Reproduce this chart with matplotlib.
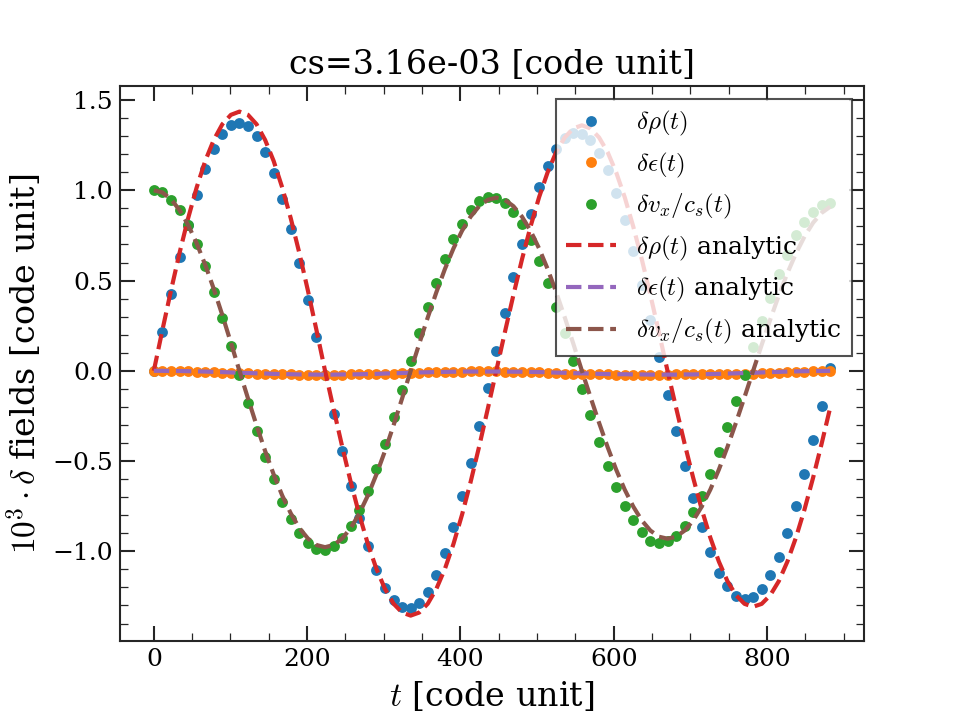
import numpy as np
import matplotlib
matplotlib.use("Agg")
import matplotlib.pyplot as plt

# time samples (code units), 80 outputs
dt = 11.17
t = dt * np.arange(80)

# measured perturbations (x 1e3)
rho = [0.000, 0.214, 0.423, 0.628, 0.807, 0.976, 1.116, 1.227, 1.311, 1.361,
       1.372, 1.355, 1.300, 1.211, 1.096, 0.950, 0.785, 0.600, 0.395, 0.190,
       -0.025, -0.238, -0.443, -0.637, -0.815, -0.968, -1.102, -1.201, -1.272, -1.311,
       -1.312, -1.285, -1.224, -1.129, -1.009, -0.865, -0.693, -0.508, -0.308, -0.097,
       0.108, 0.319, 0.519, 0.700, 0.867, 1.018, 1.135, 1.227, 1.289, 1.316,
       1.312, 1.277, 1.205, 1.111, 0.983, 0.833, 0.663, 0.473, 0.280, 0.075,
       -0.132, -0.332, -0.526, -0.702, -0.867, -1.006, -1.118, -1.194, -1.246, -1.264,
       -1.255, -1.209, -1.131, -1.031, -0.900, -0.748, -0.569, -0.386, -0.193, 0.016]

eps = [0.000, 0.000, -0.001, -0.002, -0.003, -0.007, -0.008, -0.009, -0.010, -0.011,
       -0.013, -0.014, -0.016, -0.017, -0.019, -0.020, -0.020, -0.021, -0.021, -0.021,
       -0.021, -0.021, -0.021, -0.020, -0.020, -0.020, -0.019, -0.018, -0.016, -0.014,
       -0.012, -0.010, -0.009, -0.007, -0.006, -0.005, -0.004, -0.003, -0.003, -0.003,
       -0.003, -0.004, -0.005, -0.006, -0.008, -0.009, -0.011, -0.013, -0.015, -0.016,
       -0.018, -0.019, -0.020, -0.020, -0.021, -0.021, -0.021, -0.021, -0.021, -0.021,
       -0.021, -0.020, -0.020, -0.020, -0.019, -0.019, -0.018, -0.018, -0.017, -0.016,
       -0.016, -0.014, -0.012, -0.010, -0.008, -0.006, -0.004, -0.003, -0.001, 0.000]

vx = [1.000, 0.989, 0.948, 0.889, 0.807, 0.700, 0.578, 0.437, 0.295, 0.140,
      -0.025, -0.179, -0.332, -0.476, -0.602, -0.726, -0.819, -0.900, -0.956, -0.989,
      -0.994, -0.970, -0.924, -0.857, -0.772, -0.665, -0.543, -0.404, -0.258, -0.105,
      0.055, 0.207, 0.351, 0.488, 0.617, 0.730, 0.815, 0.891, 0.941, 0.963,
      0.959, 0.931, 0.881, 0.816, 0.722, 0.611, 0.489, 0.351, 0.207, 0.053,
      -0.099, -0.247, -0.393, -0.526, -0.643, -0.748, -0.828, -0.891, -0.941, -0.956,
      -0.944, -0.913, -0.857, -0.784, -0.693, -0.571, -0.452, -0.310, -0.169, -0.021,
      0.130, 0.275, 0.404, 0.539, 0.641, 0.750, 0.822, 0.880, 0.920, 0.928]

# analytic solutions
rho_an = [0.000, 0.225, 0.444, 0.652, 0.844, 1.015, 1.162, 1.279, 1.366, 1.418,
          1.436, 1.418, 1.366, 1.279, 1.162, 1.015, 0.844, 0.652, 0.444, 0.225,
          0.000, -0.212, -0.419, -0.616, -0.797, -0.959, -1.097, -1.208, -1.290, -1.339,
          -1.356, -1.339, -1.290, -1.208, -1.097, -0.959, -0.797, -0.616, -0.419, -0.212,
          0.000, 0.213, 0.420, 0.617, 0.799, 0.962, 1.100, 1.212, 1.293, 1.343,
          1.360, 1.343, 1.293, 1.212, 1.100, 0.962, 0.799, 0.617, 0.420, 0.213,
          0.000, -0.204, -0.404, -0.593, -0.768, -0.924, -1.057, -1.165, -1.243, -1.291,
          -1.307, -1.291, -1.243, -1.165, -1.057, -0.924, -0.768, -0.593, -0.404, -0.204]

eps_an = [0.000, 0.000, -0.001, -0.001, -0.002, -0.003, -0.004, -0.006, -0.007, -0.009,
          -0.011, -0.012, -0.014, -0.015, -0.017, -0.018, -0.019, -0.020, -0.020, -0.021,
          -0.021, -0.021, -0.020, -0.020, -0.019, -0.018, -0.017, -0.015, -0.014, -0.012,
          -0.011, -0.009, -0.008, -0.007, -0.006, -0.005, -0.004, -0.004, -0.004, -0.004,
          -0.004, -0.004, -0.005, -0.005, -0.006, -0.007, -0.008, -0.010, -0.011, -0.013,
          -0.014, -0.015, -0.017, -0.018, -0.019, -0.019, -0.020, -0.020, -0.021, -0.021,
          -0.021, -0.021, -0.020, -0.020, -0.019, -0.018, -0.017, -0.015, -0.014, -0.012,
          -0.011, -0.009, -0.007, -0.006, -0.004, -0.003, -0.002, -0.001, -0.001, 0.000]

vx_an = [1.000, 0.988, 0.951, 0.891, 0.809, 0.707, 0.588, 0.454, 0.309, 0.156,
         0.000, -0.153, -0.302, -0.444, -0.574, -0.691, -0.790, -0.871, -0.929, -0.965,
         -0.977, -0.965, -0.929, -0.871, -0.790, -0.691, -0.574, -0.444, -0.302, -0.153,
         0.000, 0.150, 0.296, 0.435, 0.564, 0.678, 0.776, 0.854, 0.912, 0.947,
         0.959, 0.947, 0.912, 0.854, 0.776, 0.678, 0.564, 0.435, 0.296, 0.150,
         0.000, -0.145, -0.287, -0.422, -0.547, -0.658, -0.752, -0.829, -0.885, -0.919,
         -0.930, -0.919, -0.885, -0.829, -0.752, -0.658, -0.547, -0.422, -0.287, -0.145,
         0.000, 0.144, 0.284, 0.418, 0.541, 0.650, 0.744, 0.820, 0.875, 0.909]

dark = "#262626"
plt.rcParams.update({
    "font.family": "serif",
    "font.serif": ["DejaVu Serif"],
    "mathtext.fontset": "cm",
    "axes.edgecolor": dark,
    "axes.linewidth": 1.0,
    "xtick.direction": "in",
    "ytick.direction": "in",
    "xtick.top": True,
    "ytick.right": True,
    "xtick.minor.visible": True,
    "ytick.minor.visible": True,
    "xtick.major.size": 7,
    "ytick.major.size": 7,
    "xtick.minor.size": 4,
    "ytick.minor.size": 4,
    "xtick.major.width": 1.0,
    "ytick.major.width": 1.0,
    "xtick.color": dark,
    "ytick.color": dark,
    "xtick.labelcolor": "black",
    "ytick.labelcolor": "black",
    "xtick.labelsize": 12,
    "ytick.labelsize": 12,
})

fig, ax = plt.subplots(figsize=(6.4, 4.8), dpi=150)

ax.plot(t, rho, "o", ms=4.2, color="C0", label=r"$\delta\rho(t)$")
ax.plot(t, eps, "o", ms=4.2, color="C1", label=r"$\delta\epsilon(t)$")
ax.plot(t, vx, "o", ms=4.2, color="C2", label=r"$\delta v_x/c_s(t)$")
ax.plot(t, rho_an, "--", lw=2, color="C3", label=r"$\delta\rho(t)$ analytic")
ax.plot(t, eps_an, "--", lw=2, color="C4", label=r"$\delta\epsilon(t)$ analytic")
ax.plot(t, vx_an, "--", lw=2, color="C5", label=r"$\delta v_x/c_s(t)$ analytic")

ax.set_title("cs=3.16e-03 [code unit]", fontsize=16)
ax.set_xlabel(r"$t$ [code unit]", fontsize=16)
ax.set_ylabel(r"$10^3 \cdot \delta$ fields [code unit]", fontsize=16)

leg = ax.legend(loc="upper right", fontsize=12, fancybox=False, edgecolor=dark)
leg.get_frame().set_linewidth(1.0)

fig.savefig("out.png", dpi=150)
